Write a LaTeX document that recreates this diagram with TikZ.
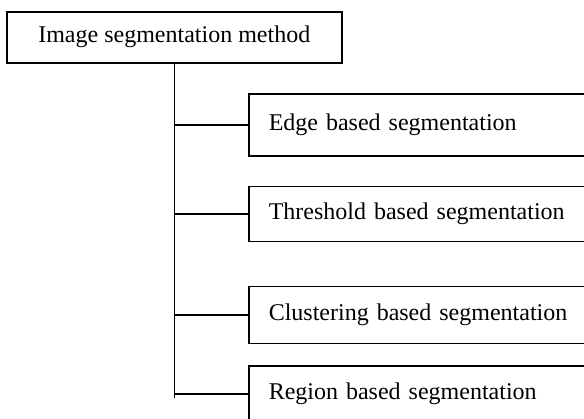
\documentclass[tikz,border=0pt]{standalone}
\usepackage{fontspec}
\setmainfont{Liberation Serif}
\begin{document}
\begin{tikzpicture}[x=1pt, y=-1pt,
            every node/.style={font=\fontsize{24}{28}\selectfont},
            rootbox/.style={rectangle, draw, line width=1.5pt, minimum width=335pt, minimum height=51pt, anchor=north west},
            methodbox/.style={rectangle, draw, line width=1.5pt, text width=320pt, align=left, inner xsep=20pt, minimum height=56pt, anchor=west},
            link/.style={line width=1.5pt},
        ]
            \useasboundingbox (0,0) rectangle (584,418);
            \clip (0,0) rectangle (584,418);
            \node[rootbox](root) at (6,11) {Image segmentation method};
            \node[methodbox, minimum height=62pt](edge) at (248,125) {\raisebox{3pt}{Edge based segmentation}};
            \node[methodbox, minimum height=55pt](thresh) at (248,214) {Threshold based segmentation};
            \node[methodbox, minimum height=57pt](cluster) at (248,315) {Clustering based segmentation};
            \node[methodbox](region) at (248,394) {Region based segmentation};
            \coordinate (trunkend) at (root.south |- 0,398);
            \draw[link] (root.south) -- (trunkend);
            \draw[link] (root.south |- edge.west) -- (edge.west);
            \draw[link] (root.south |- thresh.west) -- (thresh.west);
            \draw[link] (root.south |- cluster.west) -- (cluster.west);
            \draw[link] (root.south |- region.west) -- (region.west);
        \end{tikzpicture}
\end{document}
